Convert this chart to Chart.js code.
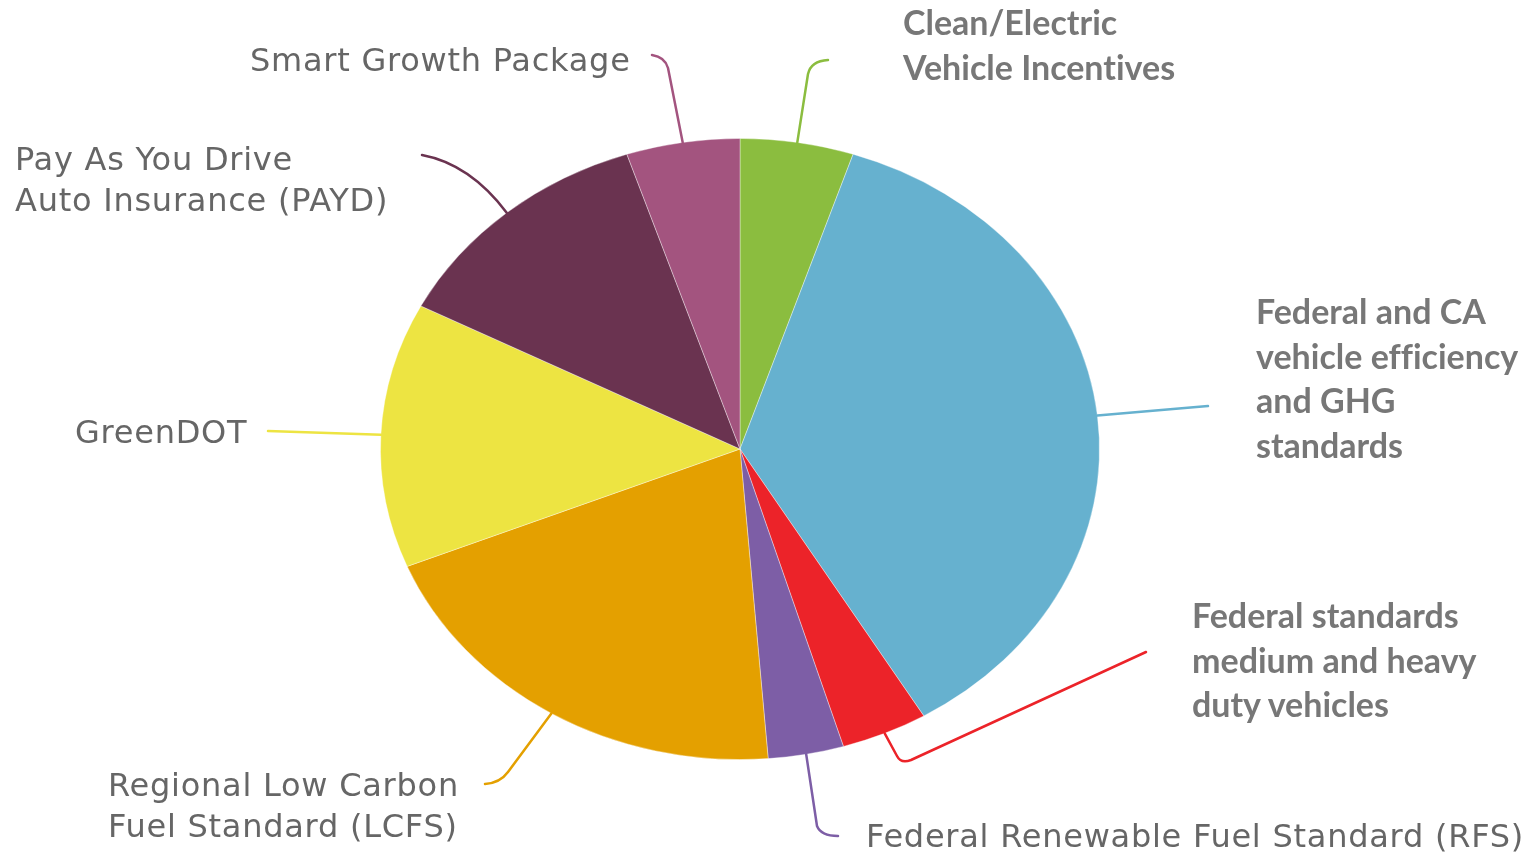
<!DOCTYPE html>
<html>
<head>
<meta charset="utf-8">
<script src="https://cdn.jsdelivr.net/npm/chart.js@4.4.1/dist/chart.umd.min.js"></script>
<style>
    * { box-sizing: border-box; }
    body { margin: 0; background: #fff; }
    #wrap { position: relative; width: 1533px; height: 854px; overflow: hidden; }
    canvas { position: absolute; left: 0; top: 0; }
    .lbl { position: absolute; white-space: nowrap; font-variant-ligatures: none; }
    .thin {
        font-family: "DejaVu Sans", sans-serif;
        font-size: 32px;
        letter-spacing: 0.75px;
        line-height: 41px;
        color: #666;
    }
    .bold {
        font-family: Lato, sans-serif;
        font-weight: bold;
        font-size: 34px;
        line-height: 44.5px;
        color: #777;
    }
</style>
</head>
<body>
<div id="wrap">
    <canvas id="myChart" width="1533" height="854"></canvas>
</div>
<script>
// slices, clockwise from 12 o'clock
const categories = [
    'Clean/Electric Vehicle Incentives',
    'Federal and CA vehicle efficiency and GHG standards',
    'Federal standards medium and heavy duty vehicles',
    'Federal Renewable Fuel Standard (RFS)',
    'Regional Low Carbon Fuel Standard (LCFS)',
    'GreenDOT',
    'Pay As You Drive Auto Insurance (PAYD)',
    'Smart Growth Package'
];
const values = [5.1, 36.4, 3.9, 3.4, 20.1, 13.8, 12.3, 5.1];
const colors = ['#8bbd3f', '#66b1cf', '#ec2329', '#7d5ea6', '#e4a000', '#ede442', '#6a3350', '#a3547f'];

// how each label is broken into lines, and its style
const labelLines = [
    ['Clean/Electric', 'Vehicle Incentives'],
    ['Federal and CA', 'vehicle efficiency', 'and GHG', 'standards'],
    ['Federal standards', 'medium and heavy', 'duty vehicles'],
    ['Federal Renewable Fuel Standard (RFS)'],
    ['Regional Low Carbon', 'Fuel Standard (LCFS)'],
    ['GreenDOT'],
    ['Pay As You Drive', 'Auto Insurance (PAYD)'],
    ['Smart Growth Package']
];
const labelStyle = ['bold', 'bold', 'bold', 'thin', 'thin', 'thin', 'thin', 'thin'];
const labelPos = [[903, 0], [1256, 289], [1192, 593], [866, 816], [108, 765], [75, 412], [15, 139], [250, 40]];

// leader line paths, starting at the middle of each slice's rim
const leaders = [
    [['L', 808, 74], ['Q', 811, 61, 828, 60]],
    [['L', 1208, 406]],
    [['L', 897, 756], ['Q', 901, 764, 911, 760], ['L', 1146, 652]],
    [['L', 817, 826], ['Q', 821, 836, 838, 836]],
    [['L', 508, 772], ['Q', 500, 783, 485, 784]],
    [['L', 268, 431]],
    [['Q', 470, 164, 422, 155]],
    [['L', 668, 68], ['Q', 665, 57, 652, 55]]
];

const squash = 311 / 360;

const ellipsePlugin = {
    id: 'ellipse',
    beforeDatasetsDraw(chart) {
        const arc = chart.getDatasetMeta(0).data[0];
        const ctx = chart.ctx;
        ctx.save();
        ctx.translate(arc.x, arc.y);
        ctx.scale(1, squash);
        ctx.translate(-arc.x, -arc.y);
    },
    afterDatasetsDraw(chart) {
        chart.ctx.restore();
    }
};

const leaderPlugin = {
    id: 'leaders',
    afterDraw(chart) {
        const ctx = chart.ctx;
        chart.getDatasetMeta(0).data.forEach((arc, i) => {
            const mid = (arc.startAngle + arc.endAngle) / 2;
            const sx = arc.x + Math.cos(mid) * arc.outerRadius;
            const sy = arc.y + Math.sin(mid) * arc.outerRadius * squash;
            ctx.save();
            ctx.strokeStyle = colors[i];
            ctx.lineWidth = 2.5;
            ctx.lineJoin = 'round';
            ctx.lineCap = 'round';
            ctx.beginPath();
            ctx.moveTo(sx, sy);
            leaders[i].forEach(seg => {
                if (seg[0] === 'L') ctx.lineTo(seg[1], seg[2]);
                else ctx.quadraticCurveTo(seg[1], seg[2], seg[3], seg[4]);
            });
            ctx.stroke();
            ctx.restore();
        });
    }
};

const ctx = document.getElementById('myChart').getContext('2d');
new Chart(ctx, {
    type: 'pie',
    data: {
        labels: categories,
        datasets: [{
            data: values,
            backgroundColor: colors,
            borderColor: 'rgba(255,255,255,0.4)',
            borderWidth: 1
        }]
    },
    options: {
        responsive: false,
        animation: false,
        events: [],
        layout: { padding: { left: 380, right: 433, top: 89, bottom: 45 } },
        plugins: {
            legend: { display: false },
            tooltip: { enabled: false }
        }
    },
    plugins: [ellipsePlugin, leaderPlugin]
});

const wrap = document.getElementById('wrap');
labelLines.forEach((lines, i) => {
    const div = document.createElement('div');
    div.className = 'lbl ' + labelStyle[i];
    div.style.left = labelPos[i][0] + 'px';
    div.style.top = labelPos[i][1] + 'px';
    div.innerHTML = lines.join('<br>');
    wrap.appendChild(div);
});
</script>
</body>
</html>
